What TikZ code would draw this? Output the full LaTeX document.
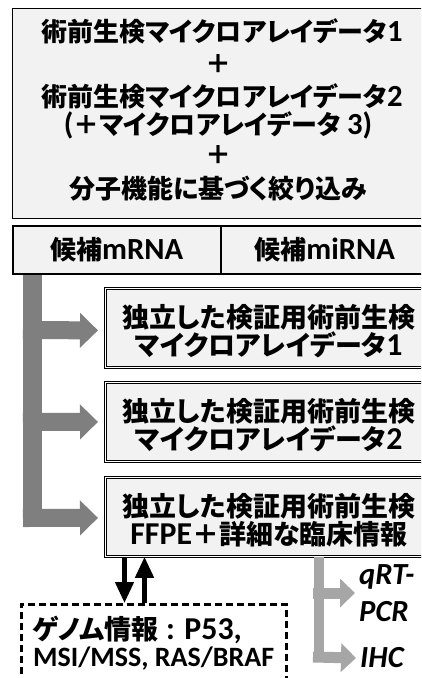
\documentclass[tikz,border=0pt]{standalone}
\usepackage{fontspec}
\newfontfamily\jp[RawFeature=+palt]{Noto Sans CJK JP}
\newfontfamily\latf[Scale=1.18]{Carlito}
\newfontfamily\latp{Carlito}
\newcommand{\mylat}[1]{{\latf\bfseries #1}}
\usetikzlibrary{arrows.meta,calc}
\definecolor{boxfill}{HTML}{F2F2F2}
\definecolor{darkarrow}{HTML}{7F7F7F}
\definecolor{lightarrow}{HTML}{A6A6A6}
\tikzset{
  topbox/.style={draw=black, fill=boxfill, line width=1.2pt, anchor=north west, inner sep=0pt},
  candbox/.style={draw=black, fill=boxfill, line width=1.5pt, anchor=north west, inner sep=0pt, minimum height=48pt},
  valbox/.style={draw=black, fill=boxfill, line width=0.8pt, double=white, double distance=1.8pt, anchor=north west, inner sep=0pt, minimum width=327pt, minimum height=79pt},
  dashbox/.style={draw=black, dash pattern=on 7pt off 4pt, line width=2.5pt, anchor=north west, inner sep=0pt},
  txt/.style={inner sep=0pt, font=\jp\bfseries\fontsize{26}{30}\selectfont},
  vtxt/.style={inner sep=0pt, align=center, font=\jp\bfseries\fontsize{27}{28}\selectfont},
  fat/.style={draw=darkarrow, line width=18pt, -{Triangle[length=18pt,width=34pt]}},
  fatbar/.style={draw=darkarrow, line width=19pt},
  thin/.style={draw=lightarrow, line width=11pt, -{Triangle[length=15pt,width=28pt]}},
  thinbar/.style={draw=lightarrow, line width=10pt},
  blk/.style={draw=black, line width=4.5pt, -{Triangle[length=21pt,width=18pt]}},
  itxt/.style={inner sep=0pt, anchor=west, font=\latf\bfseries\itshape\fontsize{26}{30}\selectfont}
}
\begin{document}
\begin{tikzpicture}[x=1pt, y=-1pt]
\path[use as bounding box] (0,0) rectangle (421,678);
\clip (0,0) rectangle (421,678);
\fill[white] (0,0) rectangle (421,678);

% top box
\node[topbox, minimum width=416pt, minimum height=210pt] (top) at (12,8) {};
\node[txt] (t1) at (222,31) {術前生検マイクロアレイデータ\mylat{1}};
\node[txt] (t2) at (218,64) {＋};
\node[txt] (t3) at (222,96) {術前生検マイクロアレイデータ\mylat{2}};
\node[txt] (t4) at (218,125) {\mylat{(}＋マイクロアレイデータ \mylat{3)}};
\node[txt] (t5) at (218,155) {＋};
\node[txt] (t6) at (218,189) {分子機能に基づく絞り込み};

% candidates
\node[candbox, minimum width=208pt] (c1) at (12,225) {};
\node[candbox, minimum width=208pt] (c2) at (220,225) {};
\node[txt] at (c1.center) {候補\mylat{mRNA}};
\node[txt] at (c2.center) {候補\mylat{miRNA}};

% validation boxes
\node[valbox] (b1) at (105,288) {};
\node[valbox] (b2) at (105,382) {};
\node[valbox] (b3) at (105,477) {};
\node[vtxt] at ($(b1.center)+(0,3)$) {独立した検証用術前生検\\マイクロアレイデータ\mylat{1}};
\node[vtxt] at ($(b2.center)+(0,3)$) {独立した検証用術前生検\\マイクロアレイデータ\mylat{2}};
\node[vtxt] at ($(b3.center)+(0,3)$) {独立した検証用術前生検\\\mylat{FFPE}＋詳細な臨床情報};

% dark gray fat arrows
\draw[fatbar] (32.5,0 |- c1.south) -- (32.5,527);
\draw[fat] (23,330) -- ($(b1.west)+(-7,2.5)$);
\draw[fat] (23,422) -- ($(b2.west)+(-7,0)$);
\draw[fat] (23,518) -- ($(b3.west)+(-7,1)$);

% genome box
\node[dashbox, minimum width=265pt, minimum height=100pt] (g) at (20,603) {};
\node[txt, anchor=west, font=\jp\bfseries\fontsize{27}{30}\selectfont] (g1) at (33,630) {ゲノム情報\mylat{ : P53,}};
\node[txt, anchor=west, font=\latp\bfseries\fontsize{28}{30}\selectfont] (g2) at (33,659) {MSI/MSS, RAS/BRAF};

% black arrows
\draw[blk] (124.5,0 |- b3.south) -- (124.5,0 |- g.north);
\draw[blk] (144.5,0 |- g.north) -- (144.5,0 |- b3.south);

% light gray arrows
\node[itxt] (q1) at (359,577) {qRT-};
\node[itxt] (q2) at (359,612) {PCR};
\node[itxt] (ihc) at (360,658) {IHC};
\draw[thinbar] (318.5,0 |- b3.south) -- (318.5,662);
\draw[thin] (313,593) -- (355,593);
\draw[thin] (313,657) -- ($(ihc.west)+(-4,0)$);
\end{tikzpicture}
\end{document}
